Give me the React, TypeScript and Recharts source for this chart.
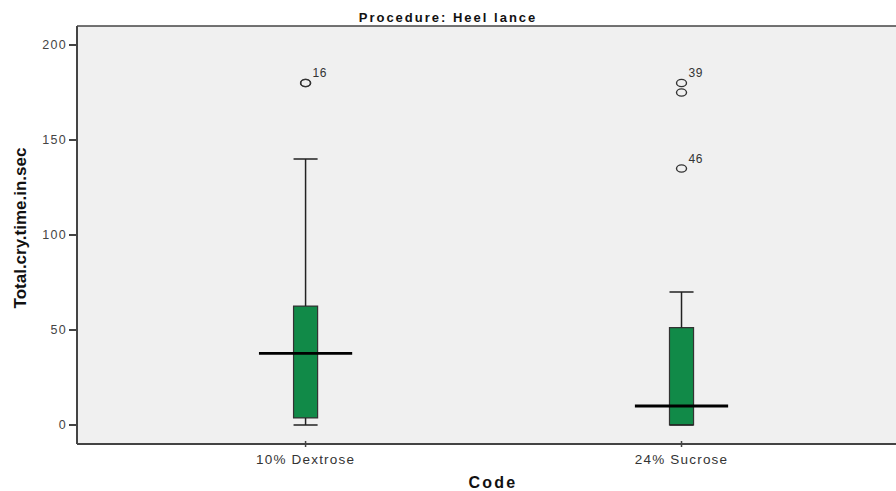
import React from "react";
import {
  ComposedChart,
  XAxis,
  YAxis,
  Scatter,
  ReferenceArea,
  ReferenceLine,
  CartesianGrid,
  LabelList,
} from "recharts";

// group positions on a numeric x axis and their names
const categories = ["10% Dextrose", "24% Sucrose"];
const positions = [1, 2];

// box plot summary values
const whiskerLow = [0, 0];
const q1 = [3.7, 0];
const medians = [37.7, 10];
const q3 = [62.6, 51.2];
const whiskerHigh = [140, 70];

// outliers per group, with their case labels (case 16 is a tie, drawn twice)
const outlierGroup = [1, 1, 2, 2, 2];
const outlierValues = [180, 180, 180, 175, 135];
const outlierLabels = ["16", "", "39", "", "46"];

const yTicks = [0, 50, 100, 150, 200];

const FONT = "'Liberation Sans', Arial, sans-serif";
const AXIS = "#444";
const BOX_HALF = 0.032;
const MEDIAN_HALF = 0.124;

const outliers = outlierValues.map((y, i) => ({
  x: outlierGroup[i],
  y,
  label: outlierLabels[i],
}));

const Ring = (props: any) => {
  const { cx, cy } = props;
  if (cx == null || cy == null) return null;
  return (
    <ellipse cx={cx} cy={cy} rx={5} ry={3.6} fill="none" stroke="#333" strokeWidth={1.4} />
  );
};

const CaseLabel = (props: any) => {
  const { viewBox, value } = props;
  if (!value || !viewBox) return null;
  const cx = viewBox.x + (viewBox.width || 0) / 2;
  const cy = viewBox.y + (viewBox.height || 0) / 2;
  return (
    <text x={cx + 7} y={cy - 6} fontSize={12} fontFamily={FONT} fill="#333" letterSpacing={0.6}>
      {value}
    </text>
  );
};

const XTick = (props: any) => {
  const { x, y, payload } = props;
  const idx = positions.indexOf(payload?.value);
  if (idx < 0) return null;
  return (
    <g>
      <line x1={x} x2={x} y1={y - 11} y2={y - 5} stroke={AXIS} strokeWidth={1.5} />
      <text
        x={x}
        y={y + 12}
        textAnchor="middle"
        fontSize={13.5}
        fontFamily={FONT}
        letterSpacing={1.2}
        fill="#333"
      >
        {categories[idx]}
      </text>
    </g>
  );
};

const YLabel = () => {
  const cx = 20;
  const cy = 228;
  return (
    <text
      x={cx}
      y={cy}
      transform={`rotate(-90 ${cx} ${cy})`}
      textAnchor="middle"
      dominantBaseline="central"
      fontSize={17}
      fontWeight="bold"
      fontFamily="'Liberation Sans Narrow', 'Liberation Sans', sans-serif"
      fill="#111"
    >
      Total.cry.time.in.sec
    </text>
  );
};

const XLabel = () => (
  <text
    x={493}
    y={488}
    textAnchor="middle"
    fontSize={16}
    fontWeight="bold"
    letterSpacing={2.2}
    fontFamily={FONT}
    fill="#111"
  >
    Code
  </text>
);

export default function App() {
  return (
    <div style={{ position: "absolute", left: 0, top: 0, width: 896, height: 491, background: "#fff", overflow: "hidden" }}>
      <div
        style={{
          position: "absolute",
          left: 0,
          top: 11,
          width: 896,
          textAlign: "center",
          fontFamily: FONT,
          fontWeight: "bold",
          fontSize: 13,
          lineHeight: "14px",
          letterSpacing: 2,
          color: "#111",
        }}
      >
        Procedure: Heel lance
      </div>
      <div style={{ position: "absolute", left: 0, top: 0, width: 904, height: 491 }}>
        <ComposedChart
          width={904}
          height={491}
          margin={{ top: 26, right: 0, bottom: 0, left: 0 }}
          accessibilityLayer={false}
        >
          <CartesianGrid fill="#f0f0f0" horizontal={false} vertical={false} stroke="none" />
          <XAxis
            type="number"
            dataKey="x"
            domain={[0.392, 2.5918]}
            ticks={positions}
            interval={0}
            allowDataOverflow
            height={47}
            stroke={AXIS}
            strokeWidth={2}
            tickLine={false}
            tick={<XTick />}
            label={<XLabel />}
          />
          <YAxis
            type="number"
            dataKey="y"
            domain={[-10, 210]}
            ticks={yTicks}
            interval={0}
            allowDataOverflow
            width={77}
            stroke={AXIS}
            strokeWidth={2}
            tickSize={8}
            tickMargin={2}
            tick={{ fill: "#444", fontSize: 12.5, fontFamily: FONT, letterSpacing: 1.3 }}
            label={<YLabel />}
          />
          <ReferenceLine y={210} stroke={AXIS} strokeWidth={1.5} />
          {positions.map((p, i) => (
            <React.Fragment key={categories[i]}>
              <ReferenceLine
                segment={[{ x: p, y: q3[i] }, { x: p, y: whiskerHigh[i] }]}
                stroke="#222"
                strokeWidth={1.5}
              />
              <ReferenceLine
                segment={[{ x: p - BOX_HALF, y: whiskerHigh[i] }, { x: p + BOX_HALF, y: whiskerHigh[i] }]}
                stroke="#222"
                strokeWidth={1.5}
              />
              <ReferenceLine
                segment={[{ x: p, y: whiskerLow[i] }, { x: p, y: q1[i] }]}
                stroke="#222"
                strokeWidth={1.5}
              />
              <ReferenceLine
                segment={[{ x: p - BOX_HALF, y: whiskerLow[i] }, { x: p + BOX_HALF, y: whiskerLow[i] }]}
                stroke="#222"
                strokeWidth={1.5}
              />
              <ReferenceArea
                x1={p - BOX_HALF}
                x2={p + BOX_HALF}
                y1={q1[i]}
                y2={q3[i]}
                fill="#118a48"
                fillOpacity={1}
                stroke="#333"
                strokeWidth={1.2}
              />
              <ReferenceLine
                segment={[{ x: p - MEDIAN_HALF, y: medians[i] }, { x: p + MEDIAN_HALF, y: medians[i] }]}
                stroke="#000"
                strokeWidth={2.8}
              />
            </React.Fragment>
          ))}
          <Scatter data={outliers} dataKey="y" shape={<Ring />} isAnimationActive={false}>
            <LabelList dataKey="label" content={<CaseLabel />} />
          </Scatter>
        </ComposedChart>
      </div>
    </div>
  );
}
